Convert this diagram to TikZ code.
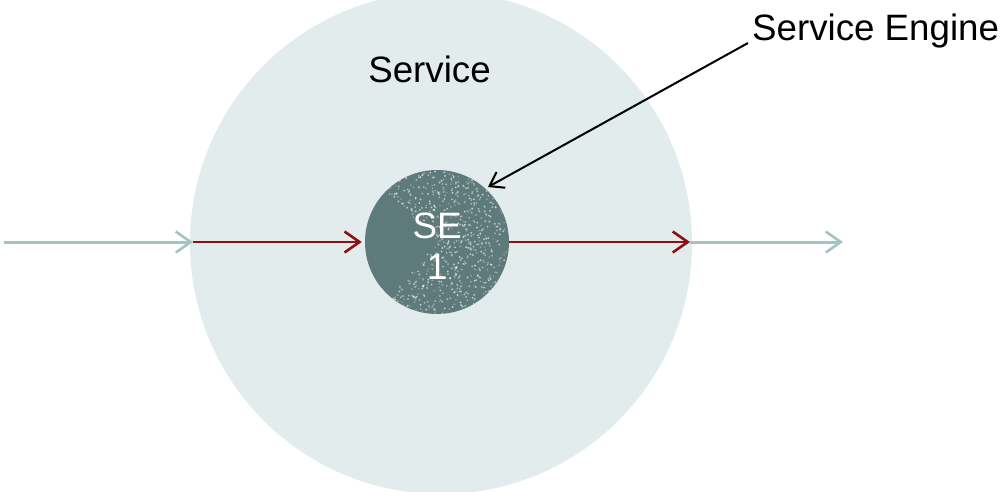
\documentclass[tikz,border=0pt]{standalone}
\usepackage{fontspec}
\setmainfont{Liberation Sans}
\usetikzlibrary{arrows.meta,calc}
\definecolor{svcfill}{HTML}{E2ECEC}
\definecolor{sefill}{HTML}{5F7A7A}
\definecolor{flowteal}{HTML}{A2C4C3}
\definecolor{flowred}{HTML}{8E1010}
\tikzset{
  bigtext/.style={font=\fontsize{36.7}{41}\selectfont, inner sep=0pt},
  barb/.style={-{Straight Barb[length=15pt,width=21pt,line width=2.6pt]}},
  outerflow/.style={barb, draw=flowteal, line width=3pt},
  innerflow/.style={barb, draw=flowred, line width=2.6pt},
  pointer/.style={-{Straight Barb[length=13pt,width=18pt,line width=2pt]}, draw=black, line width=2pt},
}
\begin{document}
\begin{tikzpicture}[x=1pt,y=-1pt]
  \useasboundingbox (0,0) rectangle (1005,491);
  \begin{scope}
    \clip (0,0) rectangle (1005,491);
    % the service area
    \node[circle, fill=svcfill, minimum size=502pt, inner sep=0pt] (svc) at (441,243) {};
  \end{scope}
  \node[bigtext, anchor=base] (svclbl) at (429.5,82) {Service};

  % the service engine with its speckled surface
  \node[circle, fill=sefill, minimum size=144pt, inner sep=0pt] (se) at (437,242) {};
  \begin{scope}
    \clip (se.center) circle (72pt);
    \pgfmathsetseed{11}
    \foreach \i in {1,...,650}{
      \pgfmathsetmacro\ang{-135+rnd*265}
      \pgfmathsetmacro\rad{72*sqrt(rnd)}
      \pgfmathsetmacro\op{0.2+0.5*rnd}
      \fill[white, opacity=\op] ($(se.center)+(\ang:\rad)$) circle (1.0pt);
    }
  \end{scope}
  \node[bigtext, text=white, align=center, anchor=base] (selbl) at (437,279) {SE\\1};

  % flow through the service
  \coordinate (src) at (4,242);
  \coordinate (dst) at (843,242);
  \coordinate (svcin) at (193,242);
  \coordinate (svcout) at (690,242);
  \draw[outerflow] (src) -- (svcin);
  \draw[innerflow] (svcin) -- ($(se.west)+(-3,0)$);
  \draw[innerflow] (se.east) -- (svcout);
  \draw[outerflow] (svcout) -- (dst);

  % pointer label
  \node[bigtext, anchor=base west] (engl) at (752,40) {Service Engine};
  \draw[pointer] ($(engl.base west)+(-4,3)$) -- ($(se.center)+(51,-55)$);
\end{tikzpicture}
\end{document}
